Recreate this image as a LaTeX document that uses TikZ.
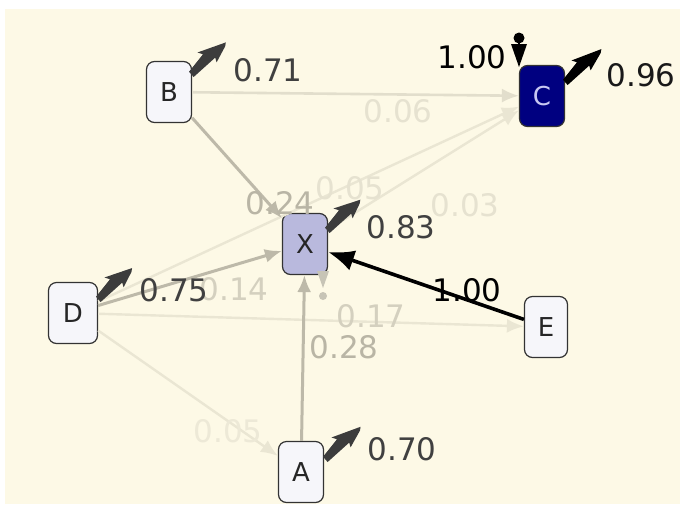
\documentclass[tikz,border=0pt]{standalone}
\usepackage{fontspec}
\setmainfont{DejaVu Sans}
\usetikzlibrary{arrows.meta}
\definecolor{bgc}{HTML}{FDF9E6}
\definecolor{nodefill}{HTML}{F6F6FA}
\definecolor{xfill}{HTML}{B9B9DD}
\definecolor{cfill}{HTML}{000080}
\definecolor{ctext}{HTML}{C8C8F2}
\definecolor{edgemid}{HTML}{BDB9A9}
\definecolor{edgelight}{HTML}{E2DECC}
\definecolor{edgefaint}{HTML}{EAE6D3}
\definecolor{labmid}{HTML}{B9B5A5}
\definecolor{lablight}{HTML}{D4D0BF}
\definecolor{labfaint}{HTML}{E6E2D0}
\definecolor{labfainter}{HTML}{EDE9D7}
\definecolor{boltc}{HTML}{3C3C3C}
\definecolor{valc}{HTML}{404040}
\tikzset{
  varbox/.style={draw=black!80, line width=1.2pt, rounded corners=8pt, fill=nodefill,
    minimum width=45pt, minimum height=61pt, inner sep=0pt,
    font=\fontsize{26}{26}\selectfont, text=black!85},
  vallabel/.style={font=\fontsize{31}{31}\selectfont, text=valc, inner sep=0pt},
  edgelabel/.style={font=\fontsize{31}{31}\selectfont, inner sep=0pt},
  midedge/.style={draw=edgemid, line width=3pt, -{Latex[length=17pt,width=14pt]}},
  lightedge/.style={draw=edgelight, line width=2.6pt, -{Latex[length=17pt,width=14pt]}},
  faintedge/.style={draw=edgefaint, line width=2.4pt, -{Latex[length=17pt,width=14pt]}},
  strongedge/.style={draw=black, line width=3.6pt, -{Latex[length=26pt,width=21pt]}}
}
\newcommand{\boltmark}[3]{%
  \begin{scope}[shift={(#1)}, rotate=41]
    \fill[#2] (0,-3) -- (22,-7) -- (19,-12) -- (#3,-1) -- (#3-3,1.5) -- (27,8) -- (29,3.5) -- (0,4) -- cycle;
  \end{scope}}
\begin{document}
\begin{tikzpicture}[x=1pt,y=-1pt]
\useasboundingbox (0,0) rectangle (680,504);
\fill[white] (0,0) rectangle (680,504);
\fill[bgc] (5,9) rectangle (680,504);

% nodes
\node[varbox] (B) at (169,92) {B};
\node[varbox, fill=cfill, text=ctext] (C) at (542,96) {C};
\node[varbox, fill=xfill] (X) at (305,244) {X};
\node[varbox, minimum width=49pt] (D) at (73,313) {D};
\node[varbox, minimum width=43pt] (E) at (546,327) {E};
\node[varbox] (A) at (301,472) {A};

% edges
\draw[faintedge] (D) -- (A);
\draw[faintedge] (D) -- (E);
\draw[faintedge] (D) -- (C);
\draw[faintedge] (X) -- (C);
\draw[lightedge] (B) -- (C);
\draw[midedge] (B) -- (X);
\draw[midedge] (D) -- (X);
\draw[midedge] (A) -- (X);
\draw[strongedge] (E) -- (X);

% marker under X
\fill[edgemid!85] (317,271) -- (329,271) -- (323,288) -- cycle;
\fill[edgemid!85] (323,296) circle (4);
% marker above C
\fill[black] (519,38) circle (5.5);
\fill[black] (511,44) -- (527,44) -- (519,67) -- cycle;
\draw[black, line width=2pt] (519,38) -- (519,50);

% bolt marks
\boltmark{191,74}{boltc}{47}
\boltmark{565,82}{black}{49}
\boltmark{327,230}{boltc}{45}
\boltmark{98,299}{boltc}{46}
\boltmark{325,459}{boltc}{48}

% edge labels
\node[edgelabel, text=labfaint] (l06) at (398,111) {0.06};
\node[edgelabel, text=labfaint] (l05a) at (350,188) {0.05};
\node[edgelabel, text=labfaint] (l03) at (465,205) {0.03};
\node[edgelabel, text=labmid] (l24) at (280,203) {0.24};
\node[edgelabel, text=lablight] (l14) at (234,289) {0.14};
\node[edgelabel, text=lablight] (l17) at (371,316) {0.17};
\node[edgelabel, text=labmid] (l28) at (344,347) {0.28};
\node[edgelabel, text=labfainter] (l05b) at (228,431) {0.05};
\node[edgelabel, text=black] (l100e) at (467,290) {1.00};
\node[edgelabel, text=black] (l100c) at (472,57) {1.00};

% value labels
\node[vallabel] (vB) at (268,70) {0.71};
\node[vallabel, text=black!90] (vC) at (641,75) {0.96};
\node[vallabel] (vX) at (401,227) {0.83};
\node[vallabel] (vD) at (174,290) {0.75};
\node[vallabel] (vA) at (402,449) {0.70};
\end{tikzpicture}
\end{document}
